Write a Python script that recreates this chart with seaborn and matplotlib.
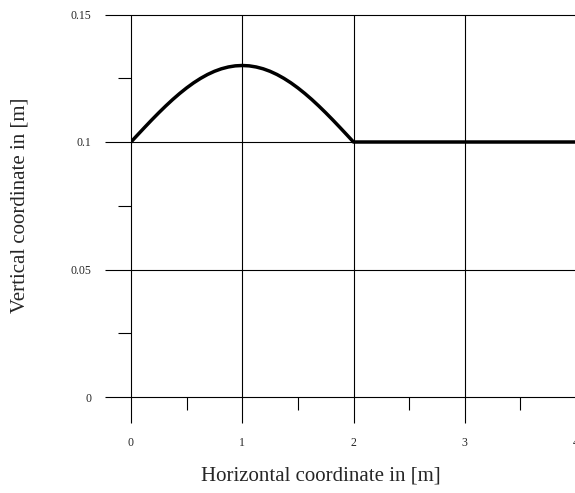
import matplotlib
matplotlib.use("Agg")
import matplotlib.pyplot as plt
import seaborn as sns
import pandas as pd

# profile: a bump between 0 and 2 m, then flat
x_pos = [0.0, 0.0625, 0.125, 0.1875, 0.25, 0.3125, 0.375, 0.4375, 0.5,
         0.5625, 0.625, 0.6875, 0.75, 0.8125, 0.875, 0.9375, 1.0,
         1.0625, 1.125, 1.1875, 1.25, 1.3125, 1.375, 1.4375, 1.5,
         1.5625, 1.625, 1.6875, 1.75, 1.8125, 1.875, 1.9375, 2.0, 4.0]
y_pos = [0.1, 0.10294, 0.10585, 0.10871, 0.11148, 0.11414, 0.11667, 0.11903, 0.12121,
         0.12319, 0.12494, 0.12646, 0.12772, 0.12871, 0.12942, 0.12986, 0.13,
         0.12986, 0.12942, 0.12871, 0.12772, 0.12646, 0.12494, 0.12319, 0.12121,
         0.11903, 0.11667, 0.11414, 0.11148, 0.10871, 0.10585, 0.10294, 0.1, 0.1]

x_ticks = [0, 1, 2, 3, 4]
x_labels = ["0", "1", "2", "3", "4"]
y_ticks = [0, 0.05, 0.1, 0.15]
y_labels = ["0", "0.05", "0.1", "0.15"]
x_minor = [0.5, 1.5, 2.5, 3.5]
y_minor = [0.025, 0.075, 0.125]

df = pd.DataFrame({"x": x_pos, "y": y_pos})

sns.set_style("white")
plt.rcParams["font.family"] = ["Liberation Serif", "DejaVu Serif"]

fig = plt.figure(figsize=(5.75, 4.93), dpi=100)
ax = fig.add_axes([131 / 575, 96 / 493, 445 / 575, 382.5 / 493])

sns.lineplot(data=df, x="x", y="y", ax=ax, color="black", linewidth=2.5,
             sort=False, estimator=None)

ax.set_xlim(0, 4)
ax.set_ylim(0, 0.15)
ax.set_xticks(x_ticks)
ax.set_xticklabels(x_labels)
ax.set_yticks(y_ticks)
ax.set_yticklabels(y_labels)
ax.set_xticks(x_minor, minor=True)
ax.set_yticks(y_minor, minor=True)

for s in ax.spines.values():
    s.set_visible(False)

ax.grid(True, which="major", color="black", linewidth=0.8)
ax.set_axisbelow(True)
for gl in ax.get_xgridlines() + ax.get_ygridlines():
    gl.set_clip_on(False)

ax.tick_params(which="major", direction="out", length=18.5, width=0.8,
               color="black", labelsize=8.5, pad=10,
               left=True, bottom=True)
ax.tick_params(which="minor", direction="out", length=9.5, width=0.8,
               color="black", left=True, bottom=True)

ax.set_xlabel("Horizontal coordinate in [m]", fontsize=15)
ax.set_ylabel("Vertical coordinate in [m]", fontsize=15)
ax.xaxis.set_label_coords(190 / 445, -69 / 382.5)
ax.yaxis.set_label_coords(-101 / 445, 0.5)

fig.savefig("out.png", dpi=100)
